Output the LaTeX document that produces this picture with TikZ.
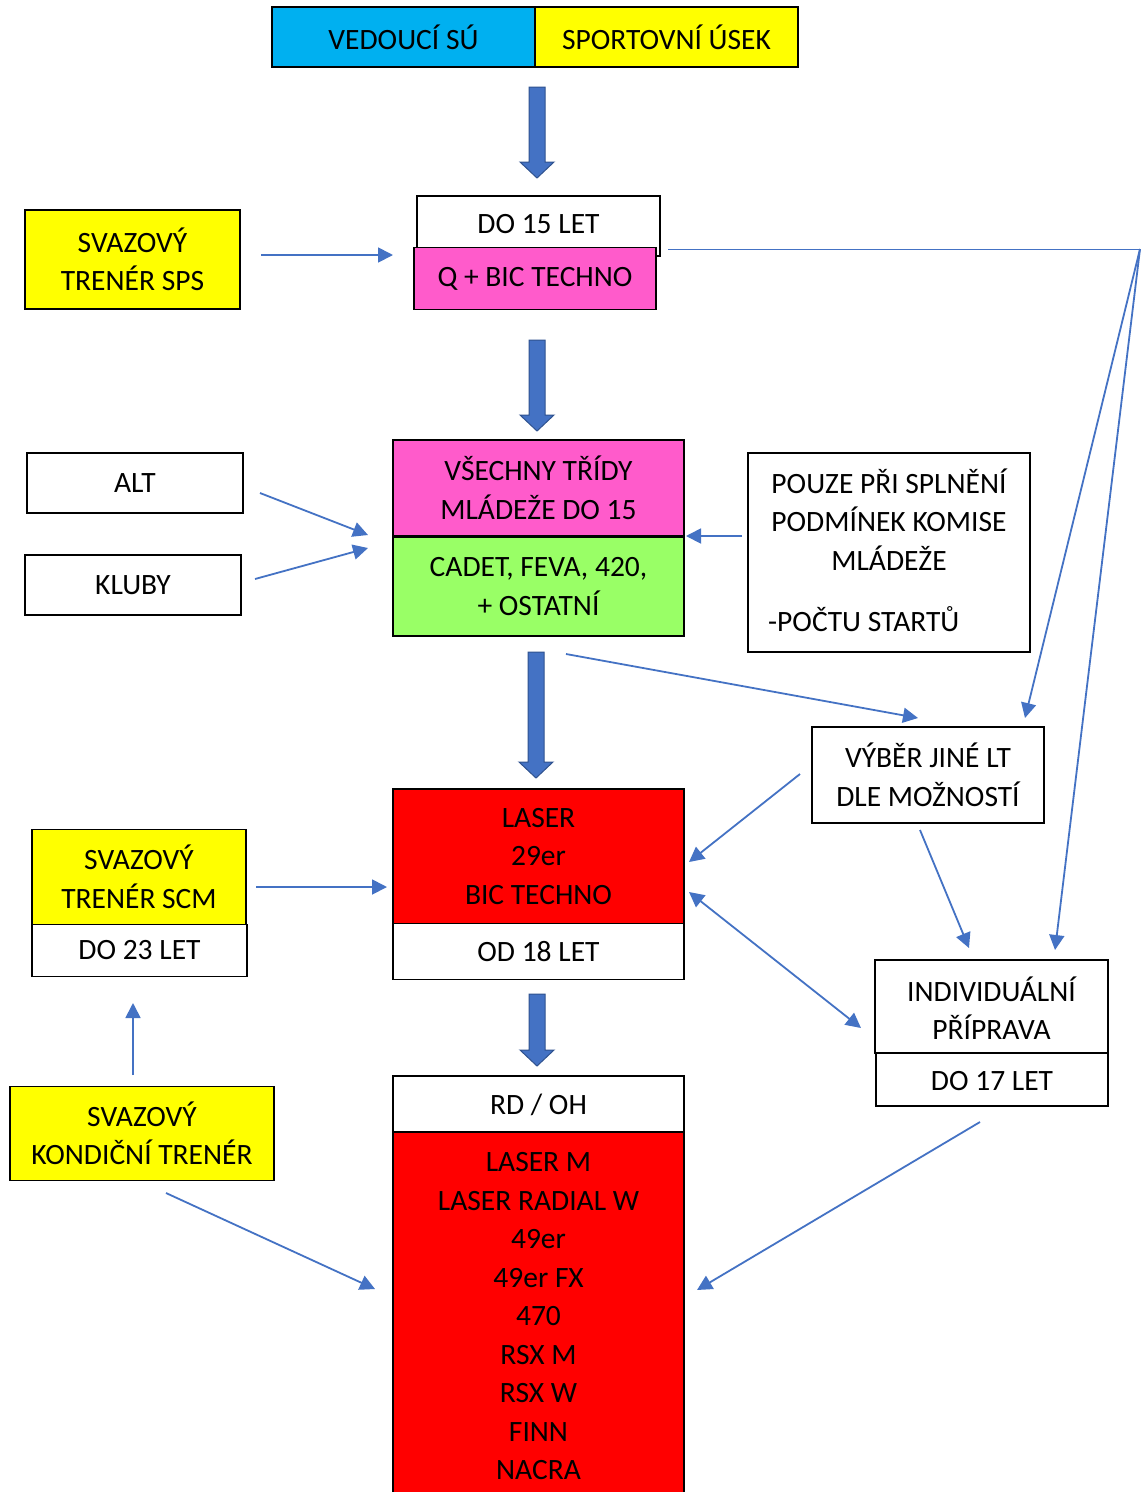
\documentclass[tikz,border=0pt]{standalone}
\usepackage{fontspec}
\setmainfont{Carlito}
\usetikzlibrary{arrows.meta}
\definecolor{cyanbox}{HTML}{00B0F0}
\definecolor{yelbox}{HTML}{FFFF00}
\definecolor{pinkbox}{HTML}{FF5BCB}
\definecolor{greenbox}{HTML}{99FF66}
\definecolor{redbox}{HTML}{FF0000}
\definecolor{lineblue}{HTML}{4472C4}
\definecolor{darkblue}{HTML}{2F528F}
\tikzset{
  box/.style={draw=black, line width=1.6pt, inner sep=0pt, align=center,
    font=\fontsize{29.5}{38.5}\selectfont},
  txt/.style={inner sep=0pt, align=center, font=\fontsize{29.5}{38.5}\selectfont},
  conn/.style={draw=lineblue, line width=1.8pt, -{Triangle[length=15pt,width=15pt]}},
  dconn/.style={draw=lineblue, line width=1.8pt, {Triangle[length=15pt,width=15pt]}-{Triangle[length=15pt,width=15pt]}},
  thinline/.style={draw=lineblue, line width=1pt},
}
\newcommand\bigarr[3]{%
  \draw[fill=lineblue, draw=darkblue, line width=1pt]
    (#1-8,#2) -- (#1+8,#2) -- (#1+8,#3-16) -- (#1+17,#3-16) -- (#1,#3)
    -- (#1-17,#3-16) -- (#1-8,#3-16) -- cycle;}
\begin{document}
\begin{tikzpicture}[x=1pt,y=-1pt]
\useasboundingbox (0,0) rectangle (1141,1492);
\fill[white] (0,0) rectangle (1141,1492);
\clip (0,0) rectangle (1141,1492);

% top
\node[box, fill=cyanbox, minimum width=263pt, minimum height=60pt] (ved) at (403.5,37) {VEDOUCÍ SÚ};
\node[box, fill=yelbox, minimum width=263pt, minimum height=60pt] (sport) at (666.5,37) {SPORTOVNÍ ÚSEK};

% do 15
\node[box, fill=white, minimum width=243pt, minimum height=60pt] (do15) at (538.5,226) {};
\node[txt] (do15txt) at (538.5,224) {DO 15 LET};
\node[box, fill=pinkbox, minimum width=242pt, minimum height=62pt] (qbic) at (535,278.5) {Q + BIC TECHNO};
\node[box, fill=yelbox, minimum width=215pt, minimum height=99pt] (sps) at (132.5,259.5) {SVAZOVÝ\\TRENÉR SPS};

% middle
\node[box, fill=white, minimum width=216pt, minimum height=60pt] (alt) at (135,483) {ALT};
\node[box, fill=white, minimum width=216pt, minimum height=60pt] (kluby) at (133,585) {KLUBY};
\node[box, fill=pinkbox, minimum width=291pt, minimum height=96pt] (vsech) at (538.5,488) {VŠECHNY TŘÍDY\\MLÁDEŽE DO 15};
\node[box, fill=greenbox, minimum width=291pt, minimum height=99pt] (cadet) at (538.5,586.5) {CADET, FEVA, 420,\\+ OSTATNÍ};
\node[box, fill=white, minimum width=282pt, minimum height=199pt] (pouze) at (889,552.5) {};
\node[txt] (pouzetxt) at (889,519.5) {POUZE PŘI SPLNĚNÍ\\PODMÍNEK KOMISE\\MLÁDEŽE};
\node[txt, anchor=west] (pocet) at (768,619) {-POČTU STARTŮ};
\node[box, fill=white, minimum width=232pt, minimum height=96pt] (vyber) at (928,775) {VÝBĚR JINÉ LT\\DLE MOŽNOSTÍ};

% laser
\node[box, fill=redbox, minimum width=291pt, minimum height=135pt] (laser) at (538.5,856.5) {};
\node[txt] (lasertxt) at (538.5,856.5) {LASER\\29er\\BIC TECHNO};
\node[box, fill=white, minimum width=291pt, minimum height=56pt] (od18) at (538.5,951.5) {OD 18 LET};
\node[box, fill=yelbox, minimum width=214pt, minimum height=95pt] (scm) at (139,877) {SVAZOVÝ\\TRENÉR SCM};
\node[box, fill=white, minimum width=215pt, minimum height=52pt] (do23) at (139.5,950.5) {DO 23 LET};
\node[box, fill=yelbox, minimum width=264pt, minimum height=94pt] (kond) at (142,1133.5) {SVAZOVÝ\\KONDIČNÍ TRENÉR};
\node[box, fill=white, minimum width=233pt, minimum height=93pt] (indiv) at (991.5,1006.5) {};
\node[txt] (indivtxt) at (991.5,1008) {INDIVIDUÁLNÍ\\PŘÍPRAVA};
\node[box, fill=white, minimum width=232pt, minimum height=53pt] (do17) at (992,1079.5) {};
\node[txt] (do17txt) at (992,1081) {DO 17 LET};

% bottom
\node[box, fill=white, minimum width=291pt, minimum height=56pt] (rdoh) at (538.5,1104) {};
\node[txt] (rdohtxt) at (538.5,1104.5) {RD / OH};
\node[box, fill=redbox, minimum width=291pt, minimum height=378pt] (red2) at (538.5,1321) {};
\node[txt] (red2txt) at (538.5,1316.5) {LASER M\\LASER RADIAL W\\49er\\49er FX\\470\\RSX M\\RSX W\\FINN\\NACRA};

% big arrows
\bigarr{537}{87}{178}
\bigarr{537}{340}{431}
\bigarr{536}{652}{778}
\bigarr{537}{994}{1066}

% connector endpoints
\coordinate (spsE) at (261,255);   \coordinate (qbicW) at (393,255);
\coordinate (do15E) at (668,249);  \coordinate (corner) at (1140,249);
\coordinate (vyberN) at (1025,718); \coordinate (indivN) at (1055,950);
\coordinate (altE) at (260,493);   \coordinate (vsechW) at (368,535);
\coordinate (klubyE) at (255,579); \coordinate (cadetW) at (368,548);
\coordinate (pouzeW) at (742,536); \coordinate (vsechE) at (686,536);
\coordinate (cadetSE) at (566,654); \coordinate (vyberNW) at (918,718);
\coordinate (vyberW) at (800,774); \coordinate (laserE1) at (689,862);
\coordinate (scmE) at (256,887);   \coordinate (laserW) at (387,887);
\coordinate (kondN) at (133,1075); \coordinate (do23S) at (133,1003);
\coordinate (kondSE) at (166,1193); \coordinate (red2W) at (375,1289);
\coordinate (laserE2) at (689,892); \coordinate (indivW) at (861,1028);
\coordinate (vyberS) at (920,830); \coordinate (indivN2) at (969,948);
\coordinate (do17S) at (980,1122); \coordinate (red2E) at (697,1290);

% connectors
\draw[conn] (spsE) -- (qbicW);
\draw[thinline] (do15E) -- (corner);
\draw[conn] (corner) -- (vyberN);
\draw[conn] (corner) -- (indivN);
\draw[conn] (altE) -- (vsechW);
\draw[conn] (klubyE) -- (cadetW);
\draw[conn] (pouzeW) -- (vsechE);
\draw[conn] (cadetSE) -- (vyberNW);
\draw[conn] (vyberW) -- (laserE1);
\draw[conn] (scmE) -- (laserW);
\draw[conn] (kondN) -- (do23S);
\draw[conn] (kondSE) -- (red2W);
\draw[dconn] (laserE2) -- (indivW);
\draw[conn] (vyberS) -- (indivN2);
\draw[conn] (do17S) -- (red2E);
\end{tikzpicture}
\end{document}
